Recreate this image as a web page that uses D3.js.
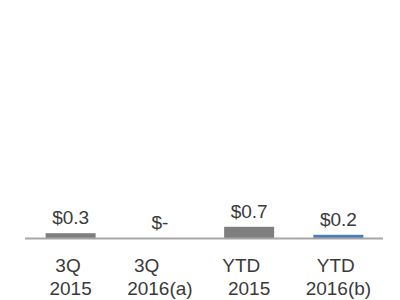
<!DOCTYPE html>
<html>
<head>
<meta charset="utf-8">
<script src="https://cdn.jsdelivr.net/npm/d3@7"></script>
<style>
  body { margin: 0; background: #fff; }
  text { font-family: "Liberation Sans", Arial, sans-serif; fill: #3a3a3a; white-space: pre; }
</style>
</head>
<body>
<div id="chart"></div>
<script>
const width = 400, height = 300;

// category labels (two lines each) and values
const line1 = ["3Q ", "3Q     ", "YTD   ", "YTD "];
const line2 = ["2015", "2016(a)", "2015", "2016(b)"];
const values = [0.3, 0, 0.7, 0.2];
const valueLabels = ["$0.3", "$-", "$0.7", "$0.2"];
const colors = ["#7f7f7f", "#7f7f7f", "#7f7f7f", "#4a7ebb"];

const svg = d3.select("#chart")
  .append("svg")
  .attr("width", width)
  .attr("height", height);

const x = d3.scaleBand()
  .domain(d3.range(values.length))
  .range([26, 383])
  .paddingInner(0.44)
  .paddingOuter(0.22);

const y = d3.scaleLinear().domain([0, 1]).range([238, 222]);

svg.selectAll("rect.bar")
  .data(values)
  .join("rect")
  .attr("class", "bar")
  .attr("x", (d, i) => x(i))
  .attr("y", d => y(d))
  .attr("width", x.bandwidth())
  .attr("height", d => y(0) - y(d))
  .attr("fill", (d, i) => colors[i]);

// baseline
svg.append("line")
  .attr("x1", 25).attr("x2", 383)
  .attr("y1", y(0) + 0.5).attr("y2", y(0) + 0.5)
  .attr("stroke", "#a6a6a6")
  .attr("stroke-width", 2);

svg.selectAll("text.val")
  .data(values)
  .join("text")
  .attr("class", "val")
  .attr("x", (d, i) => x(i) + x.bandwidth() / 2)
  .attr("y", d => y(d) - 9)
  .attr("text-anchor", "middle")
  .style("font-size", "19px")
  .text((d, i) => valueLabels[i]);

const cat = svg.selectAll("text.cat")
  .data(line1)
  .join("text")
  .attr("class", "cat")
  .attr("text-anchor", "middle")
  .style("font-size", "19px");

cat.append("tspan")
  .attr("x", (d, i) => x(i) + x.bandwidth() / 2)
  .attr("y", 272)
  .text(d => d);

cat.append("tspan")
  .attr("x", (d, i) => x(i) + x.bandwidth() / 2)
  .attr("y", 295)
  .text((d, i) => line2[i]);
</script>
</body>
</html>
